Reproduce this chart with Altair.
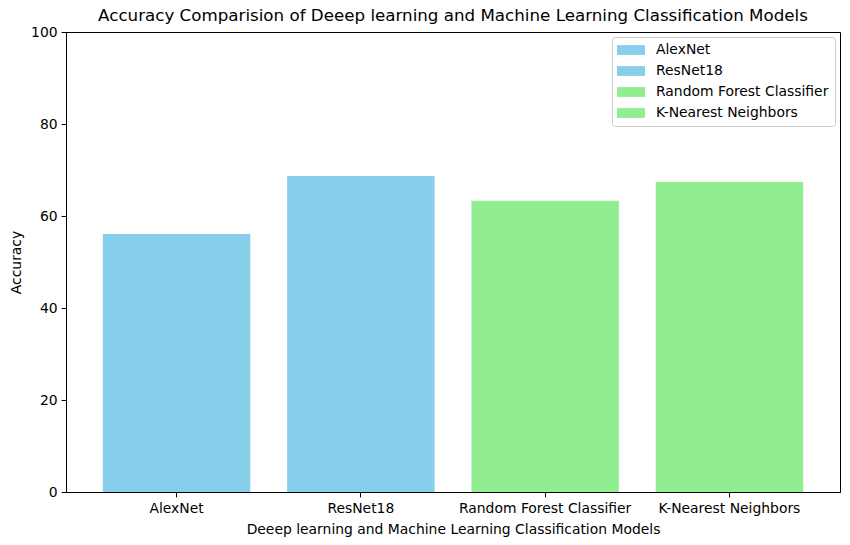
import altair as alt
import pandas as pd

models = ["AlexNet", "ResNet18", "Random Forest Classifier", "K-Nearest Neighbors"]
accuracy = [56.1, 68.7, 63.3, 67.4]
colors = ["#87CEEB", "#87CEEB", "#90EE90", "#90EE90"]
y_ticks = [0, 20, 40, 60, 80, 100]

df = pd.DataFrame({"Model": models, "Accuracy": accuracy})

FONT = "DejaVu Sans"
FS = 13.9

bars = alt.Chart(df).mark_bar().encode(
    x=alt.X("Model:N", sort=models,
            scale=alt.Scale(paddingInner=0.2, paddingOuter=0.2),
            axis=alt.Axis(title="Deeep learning and Machine Learning Classification Models",
                          labelAngle=0, labelFontSize=FS, titleFontSize=FS,
                          labelColor="black", titleColor="black", titleFontWeight="normal",
                          domainColor="black", tickColor="black", tickSize=4.9,
                          labelPadding=4.5, titlePadding=7, labelLimit=300)),
    y=alt.Y("Accuracy:Q", scale=alt.Scale(domain=[0, 100], nice=False),
            axis=alt.Axis(title="Accuracy", values=y_ticks, grid=False,
                          labelFontSize=FS, titleFontSize=FS,
                          labelColor="black", titleColor="black", titleFontWeight="normal",
                          domainColor="black", tickColor="black", tickSize=4.9,
                          labelPadding=4, titlePadding=7.5)),
    color=alt.Color("Model:N",
                    scale=alt.Scale(domain=models, range=colors),
                    legend=alt.Legend(title=None, orient="none", legendX=546, legendY=5,
                                      symbolType="M-2,-0.7H2V0.7H-2Z", symbolSize=196,
                                      symbolStrokeWidth=0, symbolOpacity=1, symbolOffset=6,
                                      labelFontSize=FS, labelColor="black", labelOffset=18,
                                      labelLimit=300, rowPadding=7,
                                      fillColor="white", strokeColor="#cccccc",
                                      cornerRadius=3, padding=6)),
).properties(
    width=774,
    height=460,
    title=alt.TitleParams("Accuracy Comparision of Deeep learning and Machine Learning Classification Models",
                          fontSize=16.7, fontWeight="normal", color="black", offset=0, anchor="middle"),
    padding={"left": 66, "top": 32, "right": 10, "bottom": 53},
    autosize=alt.AutoSizeParams(type="none"),
).configure(font=FONT).configure_view(stroke="black", strokeWidth=1)

bars.save("out.html", embed_options={"renderer": "svg", "actions": False})
